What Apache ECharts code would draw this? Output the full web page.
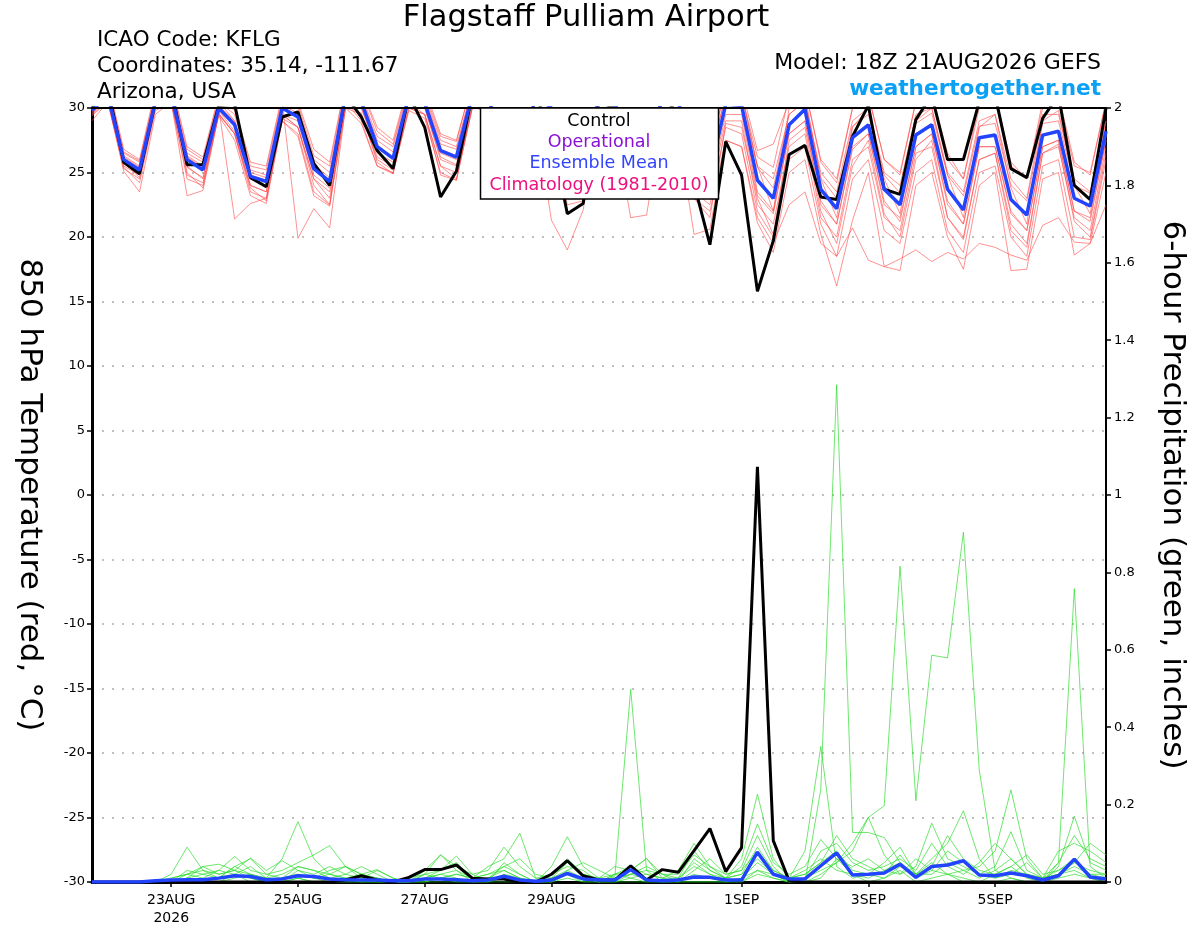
<!DOCTYPE html>
<html>
<head>
<meta charset="utf-8">
<script src="https://cdn.jsdelivr.net/npm/echarts@6/dist/echarts.min.js"></script>
<style>
html,body{margin:0;padding:0;background:#fff;overflow:hidden;}
#chart{width:1200px;height:927px;}
</style>
</head>
<body>
<div id="chart"></div>
<script>
// ---- time axis (6-hourly from 18Z 21AUG2026) ----
const startUTC = Date.UTC(2026, 7, 21, 18);
const nSteps = 65;
const months = ['JAN','FEB','MAR','APR','MAY','JUN','JUL','AUG','SEP','OCT','NOV','DEC'];
const categories = [];
for (let i = 0; i < nSteps; i++) {
  const d = new Date(startUTC + i * 6 * 3600 * 1000);
  categories.push(String(d.getUTCHours()).padStart(2,'0') + 'Z' + d.getUTCDate() + months[d.getUTCMonth()] + d.getUTCFullYear());
}
const tickIndex = [5, 13, 21, 29, 41, 49, 57];
const tickText = ['23AUG\n2026', '25AUG', '27AUG', '29AUG', '1SEP', '3SEP', '5SEP'];

// ---- 850 hPa temperature (°C) ----
const tempControl = [30.0,31.5,25.8,24.9,30.5,31.5,25.6,25.6,30.2,30.3,
 24.6,23.9,29.3,29.7,25.7,24.0,31.0,29.3,26.7,25.3,
 31.0,28.5,23.1,25.1,31.0,31.0,26.0,24.5,31.0,28.0,
 21.8,22.6,30.5,30.0,26.0,25.0,31.0,29.5,24.1,19.4,
 27.4,24.8,15.8,19.7,26.4,27.1,23.1,22.9,27.8,30.2,
 23.7,23.3,29.1,31.0,26.0,26.0,30.5,31.0,25.3,24.6,
 29.2,31.0,24.0,22.9,30.0];
const tempMean = [29.8,31.0,26.0,25.2,30.5,31.0,26.0,25.2,30.0,28.7,
 24.7,24.3,30.0,29.3,25.3,24.3,31.0,30.5,27.0,26.1,
 31.0,30.4,26.7,26.2,31.0,31.0,26.5,25.5,31.0,30.0,
 25.0,25.0,31.0,30.5,26.0,25.5,31.0,30.5,26.0,25.0,
 30.3,30.2,24.4,23.0,28.7,29.9,23.7,22.2,27.7,28.7,
 23.7,22.5,27.9,28.7,23.7,22.1,27.7,27.9,22.9,21.7,
 27.9,28.2,23.0,22.4,28.2];
const tempM01 = [30.5,32,26.8,26.0,31.5,32,27.0,26.2,31,30,
 25.8,25.5,31,30.5,26.8,25.8,32,31.5,28.5,27.5,
 32,31.5,28.0,27.5,32,32,28,27,32,31.5,
 27,26.5,32,32,28,27,32,32,28,27,
 31.5,31.5,26.7,27.2,30.5,31.5,26,24.5,30,31,
 26,25,30.5,31,26.5,24.5,30,30.5,25.5,24.5,
 30,30.5,25.5,25,30.5];
const tempM02 = [29.5,31,25.5,24.8,30,30.5,25.5,24.5,29.5,28,
 24,23.5,29.5,28.5,24.5,23.5,30,29.5,26,25.2,
 30,29.5,25.5,25,30,30,25,24,29.5,28.5,
 23.5,23,29,28,23.5,23,28.5,28,23,22,
 27.5,27,21.5,19.5,22.5,23.5,19.5,18.5,20.7,18.2,
 17.7,18.3,19,18.1,18.8,18.3,19.5,19.2,18.6,18.2,
 20.9,21.5,19.6,19.5,22.5];
const tempM03 = [29,30.5,25.1,23.5,29.5,30.5,24.5,24,30,21.4,
 22.6,23.0,29,28,23.5,22.5,30.5,29.5,26.2,25.5,
 30.5,30,26,25.5,30.5,30.5,25.5,24.5,30.5,29.5,
 24,24,30,30,25,24,30,29.5,24.5,23.5,
 29,29,22.5,21,27,28,21.5,20,26,27,
 21.5,20.5,26.5,27,21.5,20,26,26.5,21,19.5,
 26.5,27,21.5,20.5,27];
const tempM04 = [30,31.5,26.2,25.4,31,31.5,26.3,25.5,30.5,29,
 24.5,24,30.5,19.9,22.2,20.7,30,30,27,26,
 31,30.5,26.5,26,31,31,26.5,25.5,31,30,
 25,25,31,30.5,26,25,31,30.5,25.5,24.5,
 30,30,23.5,22,28,29,22.5,21,27,28,
 22.5,21.5,27,28,22.5,21,27,27,22,20.5,
 27,27.5,22,21.5,27.5];
const tempM05 = [29.5,30.5,25.3,24.5,30,30.5,23.2,23.6,29.5,28,
 23.5,23,29.5,28.5,24.5,23,30.5,29,25.5,24.9,
 30,29.5,25.5,24.5,30,30,24,23.5,29,21.3,
 19.0,22.1,29,28.5,21.5,21.7,29,28,20.2,20.6,
 27.5,27,21.1,18.8,25,26,20.2,16.2,21.3,25,
 17.7,17.4,24,25,20,17.5,24,25,17.4,17.5,
 24.5,25,18.6,19.5,25];
const tempM06 = [30.2,31.5,26.5,25.8,31,31.5,26.5,25.8,30.5,29.5,
 25.2,24.8,30.5,30,26,25,31.5,31,27.8,27,
 31.5,31,27.5,27,31.5,31.5,27.5,26.5,31.5,31,
 26.5,26,31.5,31,27,26.5,31.5,31,27,26,
 31,31,25.5,24.5,29.5,30.5,25,23.5,29,30,
 25,24,29.5,30,25,23.5,29,29.5,24.5,23,
 29.5,29.5,24.5,23.5,29.5];
const tempM07 = [29.6,30.8,25.7,24.8,30.2,30.8,25.4,24.6,29.8,28.2,
 24,23.5,29.5,29,24.8,23.8,30.5,30,26.5,25.8,
 30.5,30,26.2,25.6,30.8,30.5,26,25,30.5,29.8,
 24.5,24.2,30.5,30,25.5,24.5,30.5,30,25.2,24,
 29.5,29.5,23.2,21.8,28,29,22.8,21,26.8,28,
 22.8,21.2,27,28,22.8,21,27,27,21.8,20.5,
 27,27.5,22,21.2,27.5];
const tempM08 = [30,31.2,26.3,25.5,30.8,31.2,26.2,25.4,30.2,29,
 25,24.6,30.2,29.6,25.6,24.6,31.2,30.8,27.5,26.6,
 31.2,30.8,27.2,26.8,31.5,31.5,27,26.2,31.5,30.8,
 26,25.8,31.5,31.2,27,26.5,31.5,31.2,27,26.2,
 31,31,26.2,25.4,31,31.5,25.8,24.2,30,31,
 26,24.8,30.5,31,26,24.5,30.5,31,25.8,24.5,
 30.5,31,25.8,24.8,30.5];
const tempM09 = [29.4,30.5,25.4,24.2,29.8,30.4,24.8,24.2,29.4,27.5,
 23.2,22.6,29,27.8,23.2,22.4,30,28.8,25.5,25,
 29.8,29.2,25,24.4,30,29.8,24.5,23.8,29.8,28.5,
 22.5,22.8,29.5,29,24,23.5,29.5,29,23.5,22.5,
 28.5,28,22,20,26,27,21,18.5,24.5,26,
 20.5,19.5,25,26,20.5,18.8,25,25.5,20,18.5,
 25.5,26,20,19.8,26];
const tempM10 = [29.9,31.1,26.1,25.3,30.6,31.1,26.1,25.3,30.1,28.9,
 24.8,24.4,30.1,29.4,25.4,24.4,31.1,30.6,27.1,26.2,
 31.1,30.5,26.8,26.3,31.1,31.1,26.6,25.6,31.1,30.1,
 25.1,25.1,31.1,30.6,26.1,25.6,31.1,30.6,26.1,25.1,
 30.4,30.3,25.5,22,30,31,24.5,21.5,28.5,30,
 24.5,21.8,29,30,24.8,21.5,28.5,29.5,23.8,21,
 29,29.8,24,21.8,29];
const tempM11 = [29.7,30.6,25.8,24.6,30.2,30.8,25,23.8,29.6,28,
 23.8,22.8,29.2,28.5,24,22.5,30.2,29.6,25.8,24.9,
 30.4,29.5,24.8,24.4,30.2,30,24,23.5,29.8,29,
 23.2,23.8,30,29.5,23.5,23.5,30,29.5,23,21.5,
 28.8,28.5,23,20.2,27.5,28.5,22,19.5,25.5,27.5,
 21.8,20,26,27.5,21.5,19.8,26,26.5,20.5,19.2,
 26.5,27.2,21.2,20,26.5];
const tempM12 = [30.3,31.8,26.6,25.9,31.2,31.8,26.8,26,30.8,29.8,
 25.5,25.2,30.8,30.3,26.3,25.5,31.8,31.4,28.2,27.2,
 31.8,31.2,27.8,27.4,32,31.8,27.8,26.8,32,31.4,
 27,26.8,32,31.6,27.4,27,32,31.5,27.5,26.8,
 31.4,31.2,25.4,23.8,29.5,30.6,24.6,23,28.6,29.5,
 24.8,23.4,28.8,29.6,24.8,23.2,28.6,28.8,24,22.8,
 28.8,29,24,23.4,29];

// ---- 6-hour precipitation (inches) ----
const precipControl = [0,0,0,0,0,0,0,0,0,0,
 0,0,0,0,0,0,0.005,0.016,0.005,0,
 0.012,0.032,0.032,0.044,0.01,0.008,0.008,0,0,0.02,
 0.055,0.016,0.005,0.005,0.042,0.005,0.032,0.025,0.081,0.138,
 0.027,0.089,1.073,0.107,0.003,0,0,0,0,0,
 0,0,0,0,0,0,0,0,0,0,
 0,0,0,0,0];
const precipMean = [0,0,0,0,0.003,0.005,0.006,0.006,0.01,0.016,
 0.014,0.006,0.008,0.016,0.014,0.008,0.006,0.005,0.005,0.003,
 0.003,0.008,0.008,0.006,0.003,0.005,0.015,0.005,0.002,0.005,
 0.022,0.008,0.005,0.005,0.032,0.005,0.003,0.005,0.013,0.012,
 0.005,0.005,0.077,0.02,0.008,0.008,0.042,0.075,0.018,0.02,
 0.023,0.046,0.012,0.04,0.044,0.055,0.018,0.016,0.023,0.016,
 0.005,0.016,0.059,0.013,0.008];
const precipM01 = [0,0,0,0,0,0.01,0.02,0.01,0.03,0.02,
 0.01,0,0.01,0.02,0.01,0,0.01,0,0,0,
 0,0.01,0.02,0.01,0,0,0.02,0.01,0,0,
 0.02,0.01,0,0,0.01,0,0,0,0.02,0.01,
 0,0.01,0.03,0.01,0,0,0.24,1.285,0.128,0.128,
 0.115,0.05,0.01,0.03,0.02,0,0,0.02,0.04,0.01,
 0,0.02,0.03,0.01,0];
const precipM02 = [0,0,0,0,0,0,0,0,0,0.01,
 0.02,0,0,0.01,0,0,0,0,0,0,
 0,0,0.01,0,0,0,0,0,0,0,
 0.01,0,0,0,0,0,0,0,0,0,
 0,0,0.02,0.01,0,0,0.02,0.05,0.08,0.167,
 0.197,0.816,0.21,0.586,0.579,0.904,0.29,0.03,0.01,0,
 0,0.01,0.02,0.01,0];
const precipM03 = [0,0,0,0,0,0,0.01,0,0,0.02,
 0,0,0,0.01,0,0,0,0,0,0,
 0,0,0,0,0,0,0.01,0,0,0,
 0.02,0,0,0.015,0.498,0.03,0,0,0,0,
 0,0,0.03,0.02,0,0,0.01,0.06,0.02,0,
 0.01,0.03,0,0.01,0.02,0.01,0,0,0.01,0,
 0,0.05,0.758,0.04,0.01];
const precipM04 = [0,0,0,0,0,0,0.03,0.02,0.01,0.04,
 0.06,0.02,0.01,0.04,0.03,0.02,0.01,0,0.01,0,
 0,0.02,0.07,0.03,0,0.01,0.04,0.02,0,0.01,
 0.05,0.02,0,0,0.02,0.01,0,0.01,0.05,0.02,
 0.01,0.06,0.227,0.06,0.01,0.08,0.35,0.04,0.01,0.02,
 0.01,0.04,0.02,0.05,0.02,0.03,0.04,0.08,0.238,0.06,
 0.01,0.02,0.05,0.03,0.02];
const precipM05 = [0,0,0,0,0,0.01,0.02,0.03,0.02,0.03,
 0.02,0.01,0.06,0.156,0.06,0.02,0.01,0.02,0.01,0,
 0,0,0.01,0.02,0.01,0.04,0.06,0.126,0.01,0,
 0.03,0.01,0,0.02,0.04,0.02,0.01,0.03,0.10,0.04,
 0.01,0.02,0.09,0.03,0.01,0.02,0.05,0.08,0.03,0.02,
 0.05,0.09,0.02,0.06,0.10,0.184,0.06,0.01,0.02,0.05,
 0.01,0.03,0.06,0.02,0.01];
const precipM06 = [0,0,0,0,0,0.02,0.09,0.03,0.01,0.02,
 0.04,0.01,0,0.03,0.02,0.04,0.02,0.01,0.03,0.01,
 0,0.01,0.03,0.05,0.01,0.02,0.03,0.01,0,0.04,
 0.117,0.04,0.01,0.02,0.03,0.06,0.02,0,0.03,0.06,
 0.02,0.03,0.12,0.04,0,0.01,0.03,0.05,0.1,0.167,
 0.07,0.02,0.04,0.152,0.06,0.04,0.02,0.01,0.03,0.02,
 0,0.04,0.17,0.05,0.03];
const precipM07 = [0,0,0,0,0,0,0.01,0.02,0.03,0.066,
 0.03,0.02,0.03,0.05,0.07,0.094,0.04,0.02,0.01,0,
 0,0.02,0.03,0.067,0.02,0,0.05,0.02,0,0.02,
 0.06,0.02,0.01,0.04,0.03,0.061,0.01,0,0.06,0.03,
 0.01,0.04,0.15,0.05,0.02,0.04,0.11,0.06,0.04,0.06,
 0.03,0.02,0.06,0.03,0.08,0.05,0.02,0.04,0.13,0.03,
 0.01,0.05,0.12,0.06,0.04];
const precipM08 = [0,0,0,0,0,0,0.02,0.04,0.046,0.03,
 0.062,0.03,0.055,0.03,0.01,0.03,0.04,0.02,0.032,0.01,
 0,0.03,0.07,0.04,0.02,0.03,0.09,0.04,0.01,0.02,
 0.04,0.03,0,0.01,0.02,0.04,0.02,0.01,0.08,0.03,
 0.01,0.02,0.06,0.02,0,0.01,0.08,0.1,0.05,0.03,
 0.04,0.06,0.03,0.1,0.04,0.02,0.05,0.1,0.06,0.02,
 0.01,0.08,0.1,0.08,0.05];
const precipM09 = [0,0,0,0,0,0,0,0,0.01,0.04,
 0.02,0.01,0.02,0.04,0.03,0.01,0.02,0.04,0.02,0,
 0,0.01,0.02,0.03,0.01,0.02,0.04,0.06,0.02,0.01,
 0.03,0.05,0.03,0.01,0.02,0.03,0.02,0.02,0.07,0.04,
 0.02,0.03,0.08,0.03,0.01,0.02,0.05,0.12,0.06,0.04,
 0.02,0.07,0.02,0.04,0.12,0.06,0.03,0.02,0.04,0.07,
 0.02,0.03,0.05,0.1,0.07];
const precipM10 = [0,0,0,0,0,0,0.01,0.04,0.02,0.03,
 0.01,0,0.01,0.02,0.01,0.02,0.04,0.01,0,0,
 0.01,0.02,0.01,0.02,0.01,0.01,0.03,0.01,0,0.01,
 0.02,0.01,0,0.02,0.01,0.02,0.01,0.01,0.04,0.02,
 0,0.01,0.05,0.02,0.01,0.03,0.06,0.03,0.02,0.01,
 0.03,0.05,0.02,0.02,0.05,0.03,0.01,0.03,0.06,0.02,
 0.01,0.02,0.04,0.02,0.02];

const tempMembers = [tempM01,tempM02,tempM03,tempM04,tempM05,tempM06,tempM07,tempM08,tempM09,tempM10,tempM11,tempM12];
const precipMembers = [precipM01,precipM02,precipM03,precipM04,precipM05,precipM06,precipM07,precipM08,precipM09,precipM10];

// ---- build chart ----
const FONT = '"DejaVu Sans", "Liberation Sans", Arial, sans-serif';
const chart = echarts.init(document.getElementById('chart'), null, {renderer: 'canvas'});

const series = [];
tempMembers.forEach((arr, k) => series.push({
  name: 'temp member ' + (k + 1), type: 'line', data: arr, yAxisIndex: 0, xAxisIndex: 0,
  showSymbol: false, symbol: 'none', z: 2, silent: true,
  lineStyle: {color: 'rgba(255,70,70,0.75)', width: 0.8}
}));
precipMembers.forEach((arr, k) => series.push({
  name: 'precip member ' + (k + 1), type: 'line', data: arr, yAxisIndex: 1, xAxisIndex: 0,
  showSymbol: false, symbol: 'none', z: 2, silent: true,
  lineStyle: {color: 'rgba(40,220,40,0.85)', width: 0.8}
}));
series.push({name: 'Control precip', type: 'line', data: precipControl, yAxisIndex: 1, xAxisIndex: 0,
  symbol: 'none', z: 3, lineStyle: {color: '#000', width: 3}});
series.push({name: 'Mean precip', type: 'line', data: precipMean, yAxisIndex: 1, xAxisIndex: 0,
  symbol: 'none', z: 4, lineStyle: {color: '#2244ff', width: 3.5}});
series.push({name: 'Control', type: 'line', data: tempControl, yAxisIndex: 0, xAxisIndex: 0,
  symbol: 'none', z: 3, lineStyle: {color: '#000', width: 3}});
series.push({name: 'Ensemble Mean', type: 'line', data: tempMean, yAxisIndex: 0, xAxisIndex: 0,
  symbol: 'none', z: 4, lineStyle: {color: '#2244ff', width: 3.5}});

const showTick = (idx) => tickIndex.indexOf(idx) >= 0;

chart.setOption({
  animation: false,
  backgroundColor: '#fff',
  textStyle: {fontFamily: FONT},
  grid: {left: 92, right: 94, top: 108, bottom: 44, show: false},
  xAxis: [{
    type: 'category', data: categories, boundaryGap: false, position: 'bottom',
    axisLine: {onZero: false, lineStyle: {color: '#000', width: 3}},
    axisTick: {show: true, interval: showTick, length: 5, lineStyle: {color: '#000', width: 1.5}},
    axisLabel: {interval: showTick, color: '#000', fontSize: 14, fontFamily: FONT, lineHeight: 18, margin: 9,
      formatter: (v, idx) => { const k = tickIndex.indexOf(idx); return k >= 0 ? tickText[k] : ''; }},
    splitLine: {show: false}
  }, {
    type: 'category', data: categories, boundaryGap: false, position: 'top',
    axisLine: {onZero: false, show: true, lineStyle: {color: '#000', width: 2}},
    axisTick: {show: false}, axisLabel: {show: false}, splitLine: {show: false}, z: 10
  }],
  yAxis: [{
    type: 'value', min: -30, max: 30, interval: 5, position: 'left',
    name: '850 hPa Temperature (red, °C)', nameLocation: 'middle', nameGap: 47, nameRotate: -90,
    nameTextStyle: {fontSize: 31, color: '#000', fontFamily: FONT},
    axisLine: {show: true, lineStyle: {color: '#000', width: 3}},
    axisTick: {show: true, length: 5, lineStyle: {color: '#000', width: 1.5}},
    axisLabel: {color: '#000', fontSize: 13, fontFamily: FONT, margin: 7},
    splitLine: {show: true, lineStyle: {color: '#aaaaaa', width: 1.5, type: [2, 8]}}
  }, {
    type: 'value', min: 0, max: 2, interval: 0.2, position: 'right',
    name: '6-hour Precipitation (green, inches)', nameLocation: 'middle', nameGap: 51, nameRotate: -90,
    nameTextStyle: {fontSize: 31, color: '#000', fontFamily: FONT},
    axisLine: {show: true, lineStyle: {color: '#000', width: 2}},
    axisTick: {show: true, length: 5, lineStyle: {color: '#000', width: 1.5}},
    axisLabel: {color: '#000', fontSize: 13, fontFamily: FONT, margin: 8},
    splitLine: {show: false}
  }],
  series: series,
  graphic: [
    {type: 'text', x: 586, y: 18, z: 100, style: {text: 'Flagstaff Pulliam Airport', fontSize: 30.5, fill: '#000', fontFamily: FONT, textAlign: 'center', textVerticalAlign: 'middle'}},
    {type: 'text', x: 97, y: 40, z: 100, style: {text: 'ICAO Code: KFLG', fontSize: 21.5, fill: '#000', fontFamily: FONT, textVerticalAlign: 'middle'}},
    {type: 'text', x: 97, y: 66, z: 100, style: {text: 'Coordinates: 35.14, -111.67', fontSize: 21.5, fill: '#000', fontFamily: FONT, textVerticalAlign: 'middle'}},
    {type: 'text', x: 97, y: 92, z: 100, style: {text: 'Arizona, USA', fontSize: 21.5, fill: '#000', fontFamily: FONT, textVerticalAlign: 'middle'}},
    {type: 'text', x: 1101, y: 63, z: 100, style: {text: 'Model: 18Z 21AUG2026 GEFS', fontSize: 22, fill: '#000', fontFamily: FONT, textAlign: 'right', textVerticalAlign: 'middle'}},
    {type: 'text', x: 1101, y: 89, z: 100, style: {text: 'weathertogether.net', fontSize: 21.6, fontWeight: 'bold', fill: '#0aa0f5', fontFamily: FONT, textAlign: 'right', textVerticalAlign: 'middle'}},
    {type: 'group', z: 100, children: [
      {type: 'rect', shape: {x: 480.5, y: 108, width: 238, height: 91}, z: 100, style: {fill: '#fff', stroke: '#000', lineWidth: 1.5}},
      {type: 'text', x: 599, y: 121, z: 101, style: {text: 'Control', fontSize: 17.5, fill: '#000', fontFamily: FONT, textAlign: 'center', textVerticalAlign: 'middle'}},
      {type: 'text', x: 599, y: 142, z: 101, style: {text: 'Operational', fontSize: 17.5, fill: '#8a10d8', fontFamily: FONT, textAlign: 'center', textVerticalAlign: 'middle'}},
      {type: 'text', x: 599, y: 163, z: 101, style: {text: 'Ensemble Mean', fontSize: 17.5, fill: '#3344ff', fontFamily: FONT, textAlign: 'center', textVerticalAlign: 'middle'}},
      {type: 'text', x: 599, y: 185, z: 101, style: {text: 'Climatology (1981-2010)', fontSize: 17.5, fill: '#ee1080', fontFamily: FONT, textAlign: 'center', textVerticalAlign: 'middle'}}
    ]}
  ]
});
</script>
</body>
</html>
